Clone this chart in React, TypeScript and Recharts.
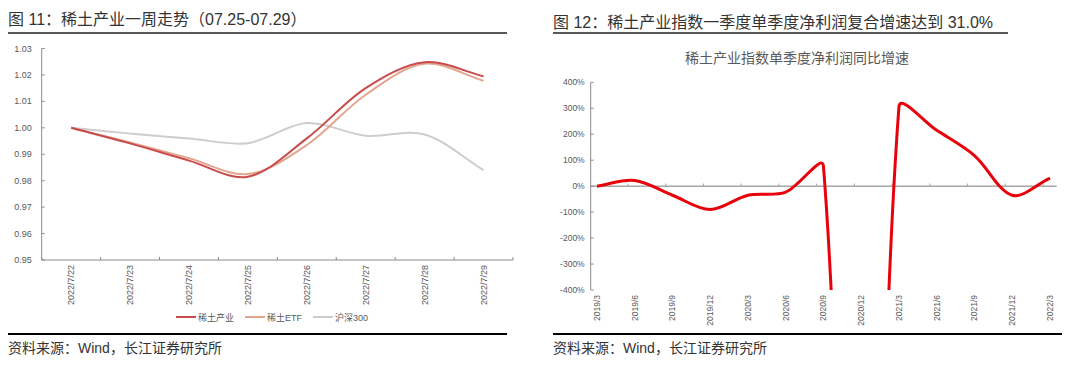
import React from 'react';
import { LineChart, Line, XAxis, YAxis, ReferenceLine } from 'recharts';

// ---------- Figure 11 data ----------
const dates = ['2022/7/22', '2022/7/23', '2022/7/24', '2022/7/25', '2022/7/26', '2022/7/27', '2022/7/28', '2022/7/29'];
const rareEarthIndustry = [1.0, 0.9941, 0.9876, 0.9815, 0.996, 1.015, 1.0248, 1.0195];
const rareEarthEtf = [1.0, 0.9945, 0.9885, 0.9825, 0.9935, 1.0125, 1.0242, 1.0178];
const csi300 = [1.0, 0.9978, 0.996, 0.9942, 1.0018, 0.997, 0.9975, 0.984];
const leftYTicks = [0.95, 0.96, 0.97, 0.98, 0.99, 1.0, 1.01, 1.02, 1.03];
const seriesNames = ['稀土产业', '稀土ETF', '沪深300'];

// ---------- Figure 12 data ----------
const quarters = ['2019/3', '2019/6', '2019/9', '2019/12', '2020/3', '2020/6', '2020/9', '2020/12', '2021/3', '2021/6', '2021/9', '2021/12', '2022/3'];
const profitGrowth = [0, 22, -35, -90, -35, -23, 76, -3700, 305, 215, 118, -35, 31];
const rightYTicks = [-400, -300, -200, -100, 0, 100, 200, 300, 400];

const AXIS = '#8c8c8c';
const LABEL = '#595959';
const NUM_FONT = '"Liberation Sans", Arial, "Noto Sans CJK SC", sans-serif';
const CN_FONT = '"Liberation Sans", Arial, "Noto Sans CJK SC", sans-serif';
const COLORS = ['#C94A4A', '#E2A690', '#CDCDCD'];

// Excel-like smoothing curve (Bezier with length-weighted tangents)
function excelSmooth(context: any) {
  let pts: number[][] = [];
  const dist = (a: number[], b: number[]) => Math.hypot(a[0] - b[0], a[1] - b[1]);
  return {
    areaStart() {},
    areaEnd() {},
    lineStart() {
      pts = [];
    },
    point(x: number, y: number) {
      pts.push([+x, +y]);
    },
    lineEnd() {
      const n = pts.length;
      if (!n) return;
      context.moveTo(pts[0][0], pts[0][1]);
      if (n === 1) return;
      const k = 1 / 3;
      for (let i = 0; i < n - 1; i++) {
        const p0 = pts[i - 1] || pts[i];
        const p1 = pts[i];
        const p2 = pts[i + 1];
        const p3 = pts[i + 2] || pts[i + 1];
        const d01 = dist(p0, p1);
        const d12 = dist(p1, p2);
        const d23 = dist(p2, p3);
        const f1 = d01 + d12 > 0 ? d12 / (d01 + d12) : 0;
        const f2 = d12 + d23 > 0 ? d12 / (d12 + d23) : 0;
        const c1x = p1[0] + k * f1 * (p2[0] - p0[0]);
        const c1y = p1[1] + k * f1 * (p2[1] - p0[1]);
        const c2x = p2[0] - k * f2 * (p3[0] - p1[0]);
        const c2y = p2[1] - k * f2 * (p3[1] - p1[1]);
        context.bezierCurveTo(c1x, c1y, c2x, c2y, p2[0], p2[1]);
      }
    },
  };
}

const leftData = dates.map((d, i) => ({ i, a: rareEarthIndustry[i], b: rareEarthEtf[i], c: csi300[i] }));
const leftXTicks: number[] = [];
for (let i = 0; i < dates.length; i++) {
  leftXTicks.push(i - 0.5, i);
}
leftXTicks.push(dates.length - 0.5);

const rightData = quarters.map((q, i) => ({ i, v: profitGrowth[i] }));
const rightXTicks = quarters.map((q, i) => i);
const zeroTickPositions = quarters.slice(1).map((q, i) => i + 1 - 0.18);

const LeftXTick = ({ x, y, payload }: any) => {
  const v = payload.value;
  if (Number.isInteger(v)) {
    return (
      <text
        x={x}
        y={y + 5}
        transform={`rotate(-90, ${x}, ${y + 5})`}
        textAnchor="end"
        dominantBaseline="central"
        fontSize={9}
        fontFamily={NUM_FONT}
        fill={LABEL}
      >
        {dates[v]}
      </text>
    );
  }
  return <line x1={x} x2={x} y1={y} y2={y - 3} stroke={AXIS} strokeWidth={1} />;
};

const LeftYTick = ({ x, y, payload }: any) => (
  <g>
    <line x1={x} x2={x + 3} y1={y} y2={y} stroke={AXIS} strokeWidth={1} />
    <text x={x - 10} y={y} textAnchor="end" dominantBaseline="central" fontSize={9} fontFamily={NUM_FONT} fill={LABEL}>
      {Number(payload.value).toFixed(2)}
    </text>
  </g>
);

const RightXTick = ({ x, y, payload }: any) => (
  <text
    x={x}
    y={y + 5}
    transform={`rotate(-90, ${x}, ${y + 5})`}
    textAnchor="end"
    dominantBaseline="central"
    fontSize={8.5}
    fontFamily={NUM_FONT}
    fill={LABEL}
  >
    {quarters[payload.value]}
  </text>
);

const RightYTick = ({ x, y, payload }: any) => (
  <g>
    <line x1={x} x2={x + 3} y1={y} y2={y} stroke={AXIS} strokeWidth={1} />
    <text x={x - 6} y={y} textAnchor="end" dominantBaseline="central" fontSize={8.5} fontFamily={NUM_FONT} fill={LABEL}>
      {`${payload.value}%`}
    </text>
  </g>
);

const rule = (left: number, top: number, width: number, color: string): React.CSSProperties => ({
  position: 'absolute',
  left,
  top,
  width,
  height: 2,
  background: color,
});

export default function App() {
  return (
    <div
      style={{
        position: 'absolute',
        left: 0,
        top: 0,
        width: 1080,
        height: 366,
        background: '#ffffff',
        overflow: 'hidden',
        fontFamily: CN_FONT,
      }}
    >
      {/* ---------- Figure 11 ---------- */}
      <div style={{ position: 'absolute', left: 8, top: 9, fontSize: 16, lineHeight: '22px', color: '#333333', whiteSpace: 'nowrap' }}>
        图 11：稀土产业一周走势（07.25-07.29）
      </div>
      <div style={rule(8, 32, 499, '#595959')} />

      <div style={{ position: 'absolute', left: 0, top: 40 }}>
        <LineChart width={520} height={270} data={leftData} margin={{ top: 8.5, right: 7, bottom: 0, left: 0 }}>
          <XAxis
            dataKey="i"
            type="number"
            domain={[-0.5, dates.length - 0.5]}
            ticks={leftXTicks}
            interval={0}
            height={50}
            tickSize={0}
            tickMargin={0}
            tickLine={false}
            axisLine={{ stroke: AXIS, strokeWidth: 1 }}
            tick={<LeftXTick />}
          />
          <YAxis
            type="number"
            domain={[0.95, 1.03]}
            ticks={leftYTicks}
            interval={0}
            width={41.7}
            tickSize={0}
            tickMargin={0}
            tickLine={false}
            axisLine={{ stroke: AXIS, strokeWidth: 1 }}
            tick={<LeftYTick />}
          />
          <Line dataKey="c" name={seriesNames[2]} stroke={COLORS[2]} strokeWidth={2} dot={false} type={excelSmooth as any} isAnimationActive={false} />
          <Line dataKey="b" name={seriesNames[1]} stroke={COLORS[1]} strokeWidth={2} dot={false} type={excelSmooth as any} isAnimationActive={false} />
          <Line dataKey="a" name={seriesNames[0]} stroke={COLORS[0]} strokeWidth={2} dot={false} type={excelSmooth as any} isAnimationActive={false} />
        </LineChart>
      </div>

      <div style={{ position: 'absolute', left: 176, top: 310, display: 'flex', alignItems: 'center', height: 14 }}>
        {seriesNames.map((n, i) => (
          <div key={n} style={{ display: 'flex', alignItems: 'center', marginRight: 11 }}>
            <div style={{ width: 20, height: 2, background: COLORS[i] }} />
            <span style={{ fontSize: 9, color: LABEL, marginLeft: 2, fontFamily: CN_FONT, whiteSpace: 'nowrap' }}>{n}</span>
          </div>
        ))}
      </div>

      <div style={rule(8, 333, 499, '#000000')} />
      <div style={{ position: 'absolute', left: 8, top: 339, fontSize: 14, lineHeight: '18px', color: '#333333', whiteSpace: 'nowrap' }}>
        资料来源：Wind，长江证券研究所
      </div>

      {/* ---------- Figure 12 ---------- */}
      <div style={{ position: 'absolute', left: 553, top: 12, fontSize: 16, lineHeight: '22px', color: '#333333', whiteSpace: 'nowrap' }}>
        图 12：稀土产业指数一季度单季度净利润复合增速达到 31.0%
      </div>
      <div style={rule(553, 32, 455, '#595959')} />

      <div
        style={{
          position: 'absolute',
          left: 597,
          width: 400,
          top: 49,
          textAlign: 'center',
          fontSize: 14,
          lineHeight: '18px',
          color: LABEL,
          whiteSpace: 'nowrap',
        }}
      >
        稀土产业指数单季度净利润同比增速
      </div>

      <div style={{ position: 'absolute', left: 540, top: 74 }}>
        <LineChart width={530} height={260} data={rightData} margin={{ top: 8.3, right: 13.3, bottom: 0, left: 0 }}>
          <XAxis
            dataKey="i"
            type="number"
            domain={[-0.167, quarters.length - 1 + 0.18]}
            ticks={rightXTicks}
            interval={0}
            height={44}
            tickSize={0}
            tickMargin={0}
            tickLine={false}
            axisLine={false}
            tick={<RightXTick />}
          />
          <YAxis
            type="number"
            domain={[-400, 400]}
            allowDataOverflow
            ticks={rightYTicks}
            interval={0}
            width={50.7}
            tickSize={0}
            tickMargin={0}
            tickLine={false}
            axisLine={{ stroke: AXIS, strokeWidth: 1 }}
            tick={<RightYTick />}
          />
          <ReferenceLine y={0} stroke="#a6a6a6" strokeWidth={1.5} />
          {zeroTickPositions.map((p) => (
            <ReferenceLine
              key={p}
              segment={[
                { x: p, y: 0 },
                { x: p, y: 10 },
              ]}
              stroke="#a6a6a6"
              strokeWidth={1}
            />
          ))}
          <Line dataKey="v" stroke="#E8000B" strokeWidth={3} dot={false} type={excelSmooth as any} isAnimationActive={false} />
        </LineChart>
      </div>

      <div style={rule(553, 333, 509, '#000000')} />
      <div style={{ position: 'absolute', left: 553, top: 339, fontSize: 14, lineHeight: '18px', color: '#333333', whiteSpace: 'nowrap' }}>
        资料来源：Wind，长江证券研究所
      </div>
    </div>
  );
}
